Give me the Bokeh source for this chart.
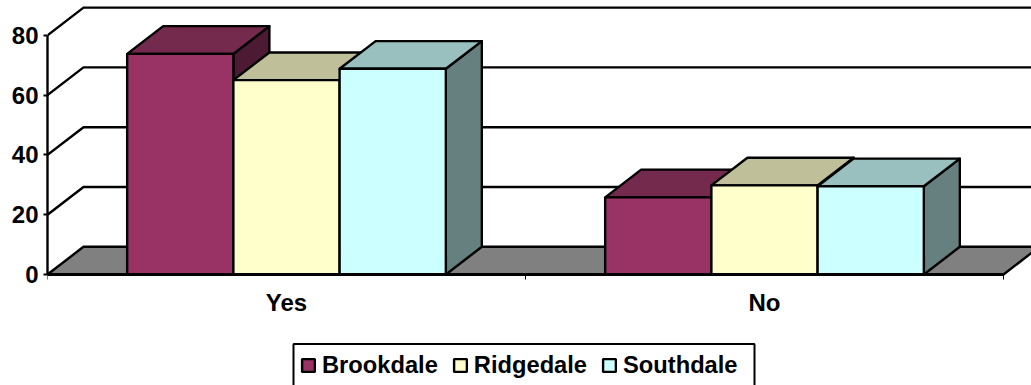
from bokeh.embed import file_html
from bokeh.resources import INLINE
from bokeh.plotting import figure
from bokeh.models import BoxAnnotation, Legend, LegendItem, FixedTicker, Range1d

# Survey results per store, one value for each answer
categories = ["Yes", "No"]
brookdale = [73.8, 25.8]
ridgedale = [65.0, 29.8]
southdale = [68.8, 29.5]
y_ticks = [0, 20, 40, 60, 80]

# (name, values, front, top, side)
series = [
    ("Brookdale", brookdale, "#993366", "#732A4D", "#4D1A33"),
    ("Ridgedale", ridgedale, "#FFFFCC", "#BFBF99", "#808066"),
    ("Southdale", southdale, "#CCFFFF", "#99BFBF", "#668080"),
]

# Pseudo-3D depth of the chart box, in axis units
DEPTH_X = 36 / 478
DEPTH_Y = 27.7 / 2.99
GAP = 1.5  # space between groups, as a multiple of one bar width
EDGE = 2.4

bar_w = 1 / (len(series) + GAP)
x_end = 984 / 478
y_end = 274 / 2.99
y_start = -111 / 2.99

p = figure(width=1031, height=385, output_backend="svg", toolbar_location=None,
           x_range=Range1d(0, x_end), y_range=Range1d(y_start, y_end),
           min_border_left=47, min_border_right=0, min_border_top=0, min_border_bottom=0)
p.outline_line_color = None
p.grid.visible = False
p.background_fill_color = "white"

# Floor of the box
p.patch([0, DEPTH_X, 2 + DEPTH_X, 2], [0, DEPTH_Y, DEPTH_Y, 0],
        fill_color="#808080", line_color="black", line_width=EDGE)

# Gridlines wrap from the axis onto the back wall
for t in y_ticks[1:]:
    p.line([0, DEPTH_X, 2 + DEPTH_X], [t, t + DEPTH_Y, t + DEPTH_Y],
           line_color="black", line_width=EDGE)

legend_items = []
for c in range(len(categories)):
    for i, (name, vals, front, top, side) in enumerate(series):
        x0 = c + GAP * bar_w / 2 + i * bar_w
        x1 = x0 + bar_w
        h = vals[c]
        p.patch([x1, x1 + DEPTH_X, x1 + DEPTH_X, x1], [0, DEPTH_Y, h + DEPTH_Y, h],
                fill_color=side, line_color="black", line_width=EDGE, line_join="round")
        p.patch([x0, x0 + DEPTH_X, x1 + DEPTH_X, x1], [h, h + DEPTH_Y, h + DEPTH_Y, h],
                fill_color=top, line_color="black", line_width=EDGE, line_join="round")
        r = p.quad(left=x0, right=x1, bottom=0, top=h,
                   fill_color=front, line_color="black", line_width=EDGE)
        if c == 0:
            legend_items.append(LegendItem(label=name, renderers=[r]))

# Value axis
ya = p.yaxis[0]
ya.ticker = FixedTicker(ticks=y_ticks)
ya.bounds = (0, 80)
ya.axis_line_color = "black"
ya.axis_line_width = 2.4
ya.major_tick_line_width = 2
ya.major_tick_in = 0
ya.major_tick_out = 4
ya.minor_tick_line_color = None
ya.major_label_text_font = "Liberation Sans"
ya.major_label_text_font_style = "bold"
ya.major_label_text_font_size = "24px"
ya.major_label_text_color = "black"
ya.major_label_standoff = 5

# Category axis: labels sit mid-group, tick marks on the group boundaries
xa = p.xaxis[0]
xa.fixed_location = 0
xa.ticker = FixedTicker(ticks=[0.5, 1.5], minor_ticks=[0, 1, 2])
xa.major_label_overrides = {0.5: categories[0], 1.5: categories[1]}
xa.bounds = (0, 2)
xa.axis_line_color = "black"
xa.axis_line_width = 3
xa.major_tick_line_color = None
xa.minor_tick_line_color = "black"
xa.minor_tick_line_width = 1
xa.minor_tick_in = 0
xa.minor_tick_out = 5
xa.major_label_text_font = "Liberation Sans"
xa.major_label_text_font_style = "bold"
xa.major_label_text_font_size = "24px"
xa.major_label_text_color = "black"
xa.major_label_standoff = 8

# Legend frame runs past the bottom of the page (offsets from the frame's lower left)
legend_box = BoxAnnotation(left=246, right=707, top=41.5, bottom=-7,
                           left_units="screen", right_units="screen",
                           top_units="screen", bottom_units="screen",
                           fill_color="white", fill_alpha=1,
                           line_color="black", line_alpha=1, line_width=2)
p.add_layout(legend_box)

legend = Legend(items=legend_items, orientation="horizontal", location=(253, 5),
                margin=0, padding=0, spacing=14, label_standoff=6,
                glyph_width=16, glyph_height=16, label_height=30,
                label_text_font="Liberation Sans", label_text_font_style="bold",
                label_text_font_size="23.7px", label_text_color="black",
                border_line_color=None, background_fill_alpha=0)
p.add_layout(legend, "center")

open("out.html", "w").write(file_html(p, INLINE))
